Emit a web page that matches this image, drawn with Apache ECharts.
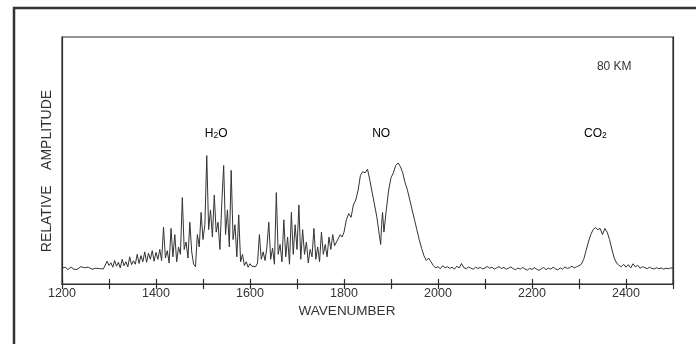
<!DOCTYPE html>
<html><head><meta charset="utf-8">
<script src="https://cdn.jsdelivr.net/npm/echarts@6/dist/echarts.min.js"></script>
<style>html,body{margin:0;padding:0;background:#fff}#c{width:696px;height:344px}</style>
</head><body><div id="c"></div>
<script>
// Axis
const xMin = 1200, xMax = 2500, xTickStep = 100;
const tickLabels = [1200, 1400, 1600, 1800, 2000, 2200, 2400];
const xTitle = 'WAVENUMBER';
const yTitle = 'RELATIVE    AMPLITUDE';
const bandLabels = [
  { name: 'H2O', wn: 1528 },
  { name: 'NO', wn: 1879 },
  { name: 'CO2', wn: 2335 }
];
const altitudeLabel = '80 KM';

// Spectrum segments [wavenumber, relative amplitude]
const lowBaseline = [
  [1200,6.5],[1204,6.0],[1208,6.8],[1212,5.8],[1216,6.4],[1220,6.9],[1224,6.0],[1228,6.6],
  [1232,5.9],[1236,6.5],[1240,7.0],[1244,6.2],[1248,6.6],[1252,6.1],[1256,6.8],[1260,6.3],
  [1264,6.0],[1268,6.7],[1272,6.4],[1276,5.8],[1280,6.2],[1284,6.9],[1288,6.1],[1292,6.0]
];
const h2oBand = [
  [1296,9.2],[1300,7.5],[1304,8.6],[1308,6.8],[1312,9.5],[1316,7.2],[1320,8.8],[1324,6.5],
  [1328,10.0],[1332,7.4],[1336,9.0],[1340,6.9],[1344,11.0],[1348,7.8],[1352,9.4],[1356,8.0],
  [1360,12.0],[1364,8.3],[1368,11.5],[1372,9.0],[1376,13.0],[1380,8.8],[1384,12.5],[1388,10.0],
  [1392,13.5],[1396,9.2],[1400,12.8],[1404,10.0],[1408,14.0],[1412,9.5],[1416,23.0],[1420,10.5],
  [1424,13.5],[1428,8.5],[1432,22.5],[1436,11.0],[1440,20.0],[1444,9.0],[1448,15.0],[1452,12.0],
  [1456,35.0],[1460,14.0],[1464,17.0],[1468,10.5],[1472,25.0],[1476,13.0],[1480,8.0],[1484,7.0],
  [1488,20.0],[1492,15.0],[1496,29.0],[1500,18.0],[1504,24.0],[1508,52.0],[1512,22.0],[1516,30.0],
  [1520,19.0],[1524,36.0],[1528,21.0],[1532,25.0],[1536,14.0],[1540,33.0],[1544,48.0],[1548,20.0],
  [1552,30.0],[1556,15.0],[1560,46.0],[1564,18.0],[1568,24.0],[1572,11.0],[1576,28.0],[1580,9.0],
  [1584,12.0],[1588,7.5],[1592,9.0],[1596,6.8],[1600,8.2],[1604,7.2],[1608,8.0],[1612,7.0],
  [1616,8.5],[1620,20.0],[1624,10.0],[1628,13.0],[1632,9.5],[1636,15.0],[1640,25.0],[1644,10.0],
  [1648,14.5],[1652,8.0],[1656,37.0],[1660,12.0],[1664,16.0],[1668,9.0],[1672,26.0],[1676,11.0],
  [1680,19.0],[1684,8.0],[1688,29.0],[1692,12.0],[1696,24.0],[1700,14.0],[1704,32.0],[1708,10.0],
  [1712,22.0],[1716,12.0],[1720,17.0],[1724,8.5],[1728,14.0],[1732,11.0],[1736,22.5],[1740,10.0],
  [1744,15.0],[1748,9.0],[1752,21.0],[1756,12.0],[1760,16.0],[1764,11.0],[1768,19.0],[1772,14.0],
  [1776,20.0],[1780,15.5],[1784,17.0],[1788,16.5],[1792,20.0],[1796,19.0],[1800,21.0]
];
const noBand = [
  [1805,26.0],[1810,28.5],[1815,27.0],[1820,32.0],[1825,34.0],[1830,38.0],[1835,44.0],[1840,45.5],
  [1845,45.0],[1850,46.5],[1855,42.0],[1860,37.0],[1865,32.0],[1870,27.0],[1875,20.0],[1878,16.0],
  [1880,24.0],[1882,29.0],[1885,21.0],[1890,30.0],[1895,38.0],[1900,43.0],[1905,45.0],[1910,48.0],
  [1915,49.0],[1920,47.5],[1925,45.0],[1930,41.0],[1935,38.0],[1940,34.0],[1945,30.0],[1950,26.0],
  [1955,22.0],[1960,18.0],[1965,14.5],[1970,11.5],[1975,9.5],[1980,10.5],[1985,9.0],[1990,7.5],
  [1995,6.5]
];
const midBaseline = [
  [2000,7.0],[2005,6.2],[2010,7.4],[2015,6.6],[2020,7.0],[2025,6.3],[2030,6.8],[2035,6.0],
  [2040,7.2],[2045,6.5],[2050,8.3],[2055,6.6],[2060,6.2],[2065,6.9],[2070,6.4],[2075,6.0],
  [2080,6.8],[2085,6.3],[2090,6.7],[2095,6.1],[2100,6.5],[2105,7.1],[2110,6.4],[2115,6.8],
  [2120,6.0],[2125,6.6],[2130,7.0],[2135,6.3],[2140,6.7],[2145,6.0],[2150,6.4],[2155,6.9],
  [2160,6.2],[2165,5.8],[2170,6.5],[2175,6.0],[2180,6.7],[2185,6.1],[2190,5.6],[2195,6.3],
  [2200,5.9],[2205,6.6],[2210,6.0],[2215,5.5],[2220,6.2],[2225,6.7],[2230,5.8],[2235,6.4],
  [2240,6.0],[2245,6.8],[2250,6.1],[2255,5.7],[2260,6.5],[2265,6.0],[2270,6.9],[2275,6.3],
  [2280,6.6],[2285,7.2],[2290,6.5],[2295,7.0],[2300,7.4]
];
const co2Band = [
  [2305,8.0],[2310,10.0],[2315,13.5],[2320,17.0],[2325,20.0],[2330,22.0],[2335,22.8],[2340,22.0],
  [2345,22.5],[2350,20.0],[2353,21.5],[2355,22.5],[2360,21.0],[2365,18.0],[2370,14.0],[2375,10.5],
  [2380,8.5],[2385,7.5],[2390,7.0]
];
const highBaseline = [
  [2395,8.0],[2400,6.8],[2405,7.8],[2410,6.5],[2415,8.2],[2420,6.9],[2425,7.6],[2430,6.4],
  [2435,7.0],[2440,6.6],[2445,6.2],[2450,6.8],[2455,6.3],[2460,6.1],[2465,6.6],[2470,6.2],
  [2475,6.5],[2480,6.0],[2485,6.4],[2490,6.2],[2495,6.5],[2500,6.3]
];

const spectrum = [].concat(lowBaseline, h2oBand, noBand, midBaseline, co2Band, highBaseline);

const ink = '#2e2e2e';
const font = 'Liberation Sans, Arial, sans-serif';
const chart = echarts.init(document.getElementById('c'), null, { renderer: 'canvas' });

const grid = { left: 62, right: 23, top: 37, bottom: 60 };

function axisCommon(pos, showLabels) {
  return {
    type: 'value', position: pos, min: xMin, max: xMax, interval: xTickStep,
    axisLine: { show: true, lineStyle: { color: ink, width: 1.2 } },
    axisTick: { show: true, inside: true, length: 5, lineStyle: { color: ink, width: 1.2 } },
    axisLabel: {
      show: showLabels, margin: 3, color: '#333', fontFamily: font, fontSize: 12.5,
      showMinLabel: true, showMaxLabel: true,
      formatter: v => tickLabels.indexOf(v) >= 0 ? String(v) : ''
    },
    splitLine: { show: false }
  };
}

const rich = {
  a: { fontFamily: font, fontSize: 12, color: '#333', lineHeight: 14 },
  s: { fontFamily: font, fontSize: 8.5, color: '#333', lineHeight: 14, verticalAlign: 'bottom', padding: [5, 0, 0, 0] }
};
function bandText(name) {
  if (name === 'H2O') return '{a|H}{s|2}{a|O}';
  if (name === 'CO2') return '{a|CO}{s|2}';
  return '{a|' + name + '}';
}

chart.setOption({
  animation: false,
  backgroundColor: '#fff',
  grid: Object.assign({ show: true, borderColor: ink, borderWidth: 1.2 }, grid),
  xAxis: [axisCommon('bottom', true), axisCommon('top', false)],
  yAxis: [{
    type: 'value', min: 0, max: 100,
    axisLine: { show: true, lineStyle: { color: ink, width: 1.2 } },
    axisTick: { show: false }, axisLabel: { show: false }, splitLine: { show: false }
  }, {
    type: 'value', min: 0, max: 100, position: 'right',
    axisLine: { show: true, lineStyle: { color: ink, width: 1.2 } },
    axisTick: { show: false }, axisLabel: { show: false }, splitLine: { show: false }
  }],
  series: [{
    type: 'line', data: spectrum, showSymbol: false, symbol: 'none',
    lineStyle: { color: '#333', width: 1 }, silent: true
  }]
});

const yBandLabel = 61; // label height in y units
const graphics = [
  { type: 'rect', shape: { x: 14, y: 8, width: 700, height: 350 },
    style: { fill: 'none', stroke: '#333', lineWidth: 2.5 }, silent: true },
  { type: 'text', x: 347, y: 311,
    style: { text: xTitle, font: '13.5px ' + font, fill: '#333', textAlign: 'center', textVerticalAlign: 'middle' } },
  { type: 'text', x: 47, y: 171, rotation: Math.PI / 2,
    style: { text: yTitle, font: '14px ' + font, fill: '#333', textAlign: 'center', textVerticalAlign: 'middle' } }
];
bandLabels.forEach(b => {
  const p = chart.convertToPixel({ xAxisIndex: 0, yAxisIndex: 0 }, [b.wn, yBandLabel]);
  graphics.push({ type: 'text', x: p[0], y: p[1],
    style: { text: bandText(b.name), rich: rich, textAlign: 'center', textVerticalAlign: 'middle' } });
});
const pk = chart.convertToPixel({ xAxisIndex: 0, yAxisIndex: 0 }, [2375, 88]);
graphics.push({ type: 'text', x: pk[0], y: pk[1],
  style: { text: altitudeLabel, font: '12px ' + font, fill: '#333', textAlign: 'center', textVerticalAlign: 'middle' } });

chart.setOption({ graphic: graphics });
</script>
</body></html>
